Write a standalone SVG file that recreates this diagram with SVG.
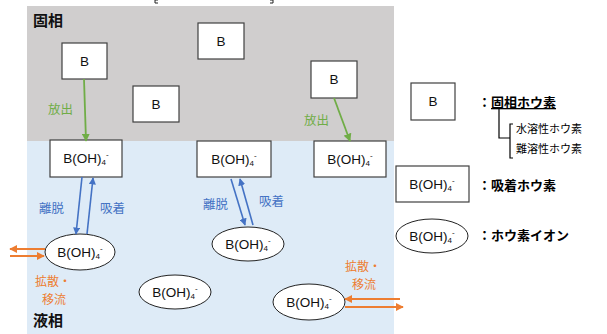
<svg xmlns="http://www.w3.org/2000/svg" width="607" height="334" viewBox="0 0 607 334">
<defs>
<style>
.box{fill:#fff;stroke:#404040;stroke-width:1.2}
.ell{fill:#fff;stroke:#222;stroke-width:1}
.t{font-family:"Liberation Sans","Noto Sans CJK JP",sans-serif;font-size:13.5px;fill:#111;text-anchor:middle}
.sub{font-size:8px}
.jp{font-family:"Noto Sans CJK JP","Noto Sans",sans-serif}
.phase{font-size:15px;font-weight:bold;fill:#111}
.green{fill:#70AD47;font-size:12.5px}
.blue{fill:#4472C4;font-size:12.5px}
.orange{fill:#ED7D31;font-size:12px}
.leg{font-size:13px;font-weight:bold;fill:#000}
.small{font-size:11px;fill:#000}
.ga{stroke:#70AD47;stroke-width:1.8;fill:none;marker-end:url(#mg)}
.ba{stroke:#4472C4;stroke-width:1.6;fill:none;marker-end:url(#mb)}
.oa{stroke:#ED7D31;stroke-width:1.8;fill:none;marker-end:url(#mo)}
</style>
<marker id="mg" viewBox="0 0 10 10" refX="9" refY="5" markerWidth="4.5" markerHeight="4.5" orient="auto"><path d="M0,0 L10,5 L0,10 z" fill="#70AD47"/></marker>
<marker id="mb" viewBox="0 0 10 10" refX="9" refY="5" markerWidth="4.5" markerHeight="4.5" orient="auto"><path d="M0,0 L10,5 L0,10 z" fill="#4472C4"/></marker>
<marker id="mo" viewBox="0 0 10 10" refX="9" refY="5" markerWidth="4.5" markerHeight="4.5" orient="auto"><path d="M0,0 L10,5 L0,10 z" fill="#ED7D31"/></marker>
</defs>
<rect width="607" height="334" fill="#fff"/>
<rect x="27" y="6" width="367" height="135" fill="#D0CECE"/>
<rect x="27" y="141" width="367" height="193" fill="#DEEBF7"/>
<path d="M158,0 L155,0 L155,3 L158,3 M270,0 L273,0 L273,3 L270,3" stroke="#222" stroke-width="1" fill="none"/>
<text class="jp phase" x="33" y="26">固相</text>
<text class="jp phase" x="33" y="326">液相</text>

<g id="b1"><rect class="box" x="62" y="43" width="45" height="36"/><text class="t" x="84.5" y="66">B</text></g>
<g id="b2"><rect class="box" x="133" y="86" width="46" height="36"/><text class="t" x="156" y="109">B</text></g>
<g id="b3"><rect class="box" x="198" y="23" width="46" height="36"/><text class="t" x="221" y="46">B</text></g>
<g id="b4"><rect class="box" x="311" y="61" width="46" height="37"/><text class="t" x="334" y="84">B</text></g>

<g id="a1"><rect class="box" x="50" y="140" width="72" height="37"/><text class="t" x="86" y="163">B(OH)<tspan class="sub" dy="2">4</tspan><tspan class="sub" dy="-8">-</tspan></text></g>
<g id="a2"><rect class="box" x="197" y="141" width="74" height="36"/><text class="t" x="234" y="164">B(OH)<tspan class="sub" dy="2">4</tspan><tspan class="sub" dy="-8">-</tspan></text></g>
<g id="a3"><rect class="box" x="314" y="141" width="72" height="36"/><text class="t" x="350" y="164">B(OH)<tspan class="sub" dy="2">4</tspan><tspan class="sub" dy="-8">-</tspan></text></g>

<g id="i1"><ellipse class="ell" cx="80" cy="252" rx="35" ry="18"/><text class="t" x="80" y="257">B(OH)<tspan class="sub" dy="2">4</tspan><tspan class="sub" dy="-8">-</tspan></text></g>
<g id="i2"><ellipse class="ell" cx="175" cy="292" rx="36" ry="17"/><text class="t" x="175" y="297">B(OH)<tspan class="sub" dy="2">4</tspan><tspan class="sub" dy="-8">-</tspan></text></g>
<g id="i3"><ellipse class="ell" cx="248" cy="244" rx="36" ry="17"/><text class="t" x="248" y="249">B(OH)<tspan class="sub" dy="2">4</tspan><tspan class="sub" dy="-8">-</tspan></text></g>
<g id="i4"><ellipse class="ell" cx="309" cy="302" rx="36" ry="18"/><text class="t" x="309" y="307">B(OH)<tspan class="sub" dy="2">4</tspan><tspan class="sub" dy="-8">-</tspan></text></g>

<g id="connectors">
<line class="ga" x1="84" y1="79" x2="86" y2="141"/>
<line class="ga" x1="334" y1="98" x2="350" y2="141"/>
<line class="ba" x1="82" y1="177" x2="76" y2="234"/>
<line class="ba" x1="87" y1="234" x2="93" y2="178"/>
<line class="ba" x1="231" y1="179" x2="245" y2="225"/>
<line class="ba" x1="253" y1="225" x2="240" y2="179"/>
<line class="oa" x1="45" y1="249" x2="10" y2="249"/>
<line class="oa" x1="10" y1="256" x2="44" y2="256"/>
<line class="oa" x1="400" y1="299" x2="345" y2="299"/>
<line class="oa" x1="345" y1="307" x2="403" y2="307"/>
</g>

<g id="labels">
<text class="jp green" x="48" y="114">放出</text>
<text class="jp green" x="304" y="125">放出</text>
<text class="jp blue" x="39" y="213">離脱</text>
<text class="jp blue" x="100" y="213">吸着</text>
<text class="jp blue" x="203" y="209">離脱</text>
<text class="jp blue" x="259" y="206">吸着</text>
<text class="jp orange" x="35" y="286">拡散・</text>
<text class="jp orange" x="42" y="304">移流</text>
<text class="jp orange" x="345" y="271">拡散・</text>
<text class="jp orange" x="352" y="289">移流</text>
</g>

<g id="legend-solid"><rect class="box" x="411" y="83" width="44" height="37"/><text class="t" x="433" y="106">B</text>
<text class="jp leg" x="478" y="107">：<tspan text-decoration="underline">固相ホウ素</tspan></text>
<path d="M499,109 L499,138 L510,138 M513,124 L510,124 L510,158 L513,158" stroke="#000" stroke-width="1.2" fill="none"/>
<text class="jp small" x="516" y="133">水溶性ホウ素</text>
<text class="jp small" x="516" y="153">難溶性ホウ素</text>
</g>
<g id="legend-adsorbed"><rect class="box" x="396" y="166" width="73" height="36"/><text class="t" x="432" y="189">B(OH)<tspan class="sub" dy="2">4</tspan><tspan class="sub" dy="-8">-</tspan></text>
<text class="jp leg" x="478" y="190">：吸着ホウ素</text></g>
<g id="legend-ion"><ellipse class="ell" cx="432" cy="236" rx="36" ry="17"/><text class="t" x="432" y="241">B(OH)<tspan class="sub" dy="2">4</tspan><tspan class="sub" dy="-8">-</tspan></text>
<text class="jp leg" x="478" y="240">：ホウ素イオン</text></g>
</svg>
